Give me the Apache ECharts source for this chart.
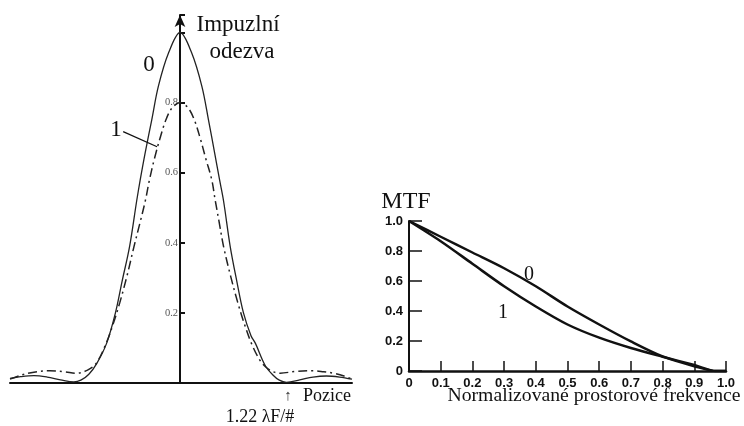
<!DOCTYPE html>
<html>
<head>
<meta charset="utf-8">
<script src="https://cdn.jsdelivr.net/npm/echarts@6/dist/echarts.min.js"></script>
<style>
html,body{margin:0;padding:0;background:#fff;}
#c{width:744px;height:426px;}
</style>
</head>
<body>
<div id="c"></div>
<script>
// ---- Impulse response (left), position in units of lambda F/# ----
var psfX0 = [-1.92,-1.8,-1.65,-1.5,-1.35,-1.2,-1.12,-1.03,-0.94,-0.83,-0.73,-0.655,-0.57,-0.49,-0.45,-0.395,-0.32,-0.245,-0.13,0,
             0.13,0.245,0.32,0.39,0.445,0.49,0.565,0.64,0.715,0.8,0.85,0.96,1.05,1.12,1.2,1.35,1.5,1.65,1.8,1.94];
var psfY0 = [0.013,0.018,0.021,0.017,0.009,0.003,0.008,0.025,0.056,0.113,0.2,0.29,0.39,0.52,0.58,0.656,0.751,0.847,0.942,1.0,
             0.942,0.847,0.751,0.656,0.58,0.52,0.39,0.29,0.2,0.135,0.113,0.05,0.022,0.008,0.002,0.009,0.017,0.02,0.017,0.011];
var psfX1 = [-1.92,-1.8,-1.65,-1.47,-1.3,-1.17,-1.05,-0.95,-0.84,-0.76,-0.68,-0.6,-0.52,-0.45,-0.39,-0.35,-0.29,-0.225,-0.16,-0.09,0,
             0.09,0.16,0.225,0.29,0.357,0.395,0.44,0.49,0.57,0.65,0.73,0.81,0.9,0.97,1.05,1.13,1.3,1.5,1.62,1.73,1.85,1.94];
var psfY1 = [0.011,0.022,0.031,0.035,0.032,0.028,0.036,0.055,0.11,0.165,0.23,0.305,0.39,0.46,0.523,0.575,0.64,0.70,0.751,0.785,0.8,
             0.785,0.751,0.70,0.64,0.58,0.523,0.46,0.39,0.305,0.23,0.165,0.11,0.065,0.045,0.032,0.028,0.033,0.035,0.032,0.028,0.02,0.011];
var psfTicks = [0.2, 0.4, 0.6, 0.8];

// ---- MTF (right) ----
var mtfX = [0,0.1,0.2,0.3,0.4,0.5,0.6,0.7,0.8,0.9,0.97,1.0];
var mtf0 = [1.0,0.895,0.79,0.685,0.565,0.43,0.31,0.197,0.097,0.032,0.0,0.0];
var mtf1 = [1.0,0.865,0.715,0.565,0.43,0.31,0.222,0.153,0.095,0.04,0.0,0.0];

function pairs(xs, ys){ return xs.map(function(x,i){ return [x, ys[i]]; }); }

var serif = '"Liberation Serif", "DejaVu Serif", serif';
var chart = echarts.init(document.getElementById('c'));
chart.setOption({
  animation: false,
  backgroundColor: '#fff',
  grid: [
    {left: 10, top: 15, width: 342, height: 368, outerBoundsMode: 'none', containLabel: false},
    {left: 409, top: 221, width: 317, height: 150, outerBoundsMode: 'none', containLabel: false}
  ],
  xAxis: [
    {gridIndex: 0, type: 'value', min: -1.92, max: 1.94,
     axisLine: {show: true, onZero: false, lineStyle: {color: '#111', width: 2}},
     axisTick: {show: false}, axisLabel: {show: false}, splitLine: {show: false}},
    {gridIndex: 1, type: 'value', min: 0, max: 1, interval: 0.1,
     axisLine: {show: true, onZero: false, lineStyle: {color: '#111', width: 2.5}},
     axisTick: {show: true, inside: true, length: 10, lineStyle: {color: '#111', width: 1.5}},
     axisLabel: {show: true, margin: 6, color: '#111', fontFamily: '"Liberation Sans", Arial, sans-serif', fontWeight: 'bold', fontSize: 13,
       formatter: function(v){ return v === 0 ? '0' : v.toFixed(1); }},
     splitLine: {show: false}}
  ],
  yAxis: [
    {gridIndex: 0, type: 'value', min: 0, max: 1.05, interval: 0.2, offset: -170,
     axisLine: {show: true, onZero: false, symbol: ['none', 'arrow'], symbolSize: [8, 12], lineStyle: {color: '#111', width: 2}},
     axisTick: {show: true, inside: true, length: 5, lineStyle: {color: '#111', width: 2}},
     axisLabel: {show: true, margin: 2, color: '#555', fontFamily: serif, fontSize: 10.5,
       formatter: function(v){ var r = Math.round(v*10)/10; return (psfTicks.indexOf(r) >= 0 && Math.abs(v - r) < 1e-6) ? v.toFixed(1) : ''; }},
     splitLine: {show: false}},
    {gridIndex: 1, type: 'value', min: 0, max: 1.0, interval: 0.2,
     axisLine: {show: true, onZero: false, lineStyle: {color: '#111', width: 2}},
     axisTick: {show: true, inside: true, length: 13, lineStyle: {color: '#111', width: 1.5}},
     axisLabel: {show: true, margin: 6, color: '#111', fontFamily: '"Liberation Sans", Arial, sans-serif', fontWeight: 'bold', fontSize: 13,
       formatter: function(v){ return v === 0 ? '0' : v.toFixed(1); }},
     splitLine: {show: false}}
  ],
  series: [
    {type: 'line', xAxisIndex: 0, yAxisIndex: 0, data: pairs(psfX0, psfY0), smooth: 0.35, showSymbol: false,
     lineStyle: {color: '#222', width: 1.3}, z: 3},
    {type: 'line', xAxisIndex: 0, yAxisIndex: 0, data: pairs(psfX1, psfY1), smooth: 0.35, showSymbol: false,
     lineStyle: {color: '#222', width: 1.5, type: [9, 4, 2, 4]}, z: 3,
     markLine: {silent: true, symbol: ['none', 'none'], label: {show: false},
       lineStyle: {color: '#111', width: 1.3, type: 'solid'},
       data: [[{coord: [-0.643, 0.717]}, {coord: [-0.26, 0.674]}]]}},
    {type: 'line', xAxisIndex: 1, yAxisIndex: 1, data: pairs(mtfX, mtf0), smooth: 0.3, showSymbol: false,
     lineStyle: {color: '#111', width: 2.5}},
    {type: 'line', xAxisIndex: 1, yAxisIndex: 1, data: pairs(mtfX, mtf1), smooth: 0.3, showSymbol: false,
     lineStyle: {color: '#111', width: 2.5}}
  ],
  graphic: [
    {type: 'text', x: 238, y: 25, style: {text: 'Impuzlní', font: '23px ' + serif, fill: '#111', align: 'center', verticalAlign: 'middle'}},
    {type: 'text', x: 242, y: 52, style: {text: 'odezva', font: '23px ' + serif, fill: '#111', align: 'center', verticalAlign: 'middle'}},
    {type: 'text', x: 149, y: 65, style: {text: '0', font: '23px ' + serif, fill: '#111', align: 'center', verticalAlign: 'middle'}},
    {type: 'text', x: 116, y: 130, style: {text: '1', font: '23px ' + serif, fill: '#111', align: 'center', verticalAlign: 'middle'}},
    {type: 'text', x: 327, y: 396, style: {text: 'Pozice', font: '18px ' + serif, fill: '#111', align: 'center', verticalAlign: 'middle'}},
    {type: 'text', x: 288, y: 396, style: {text: '↑', font: '15px ' + serif, fill: '#333', align: 'center', verticalAlign: 'middle'}},
    {type: 'text', x: 260, y: 417, style: {text: '1.22 λF/#', font: '18px ' + serif, fill: '#111', align: 'center', verticalAlign: 'middle'}},
    {type: 'text', x: 406, y: 202, style: {text: 'MTF', font: '24px ' + serif, fill: '#111', align: 'center', verticalAlign: 'middle'}},
    {type: 'text', x: 529, y: 275, style: {text: '0', font: '20px ' + serif, fill: '#111', align: 'center', verticalAlign: 'middle'}},
    {type: 'text', x: 503, y: 313, style: {text: '1', font: '20px ' + serif, fill: '#111', align: 'center', verticalAlign: 'middle'}},
    {type: 'text', x: 594, y: 396, style: {text: 'Normalizované prostorové frekvence', font: '19.7px ' + serif, fill: '#111', align: 'center', verticalAlign: 'middle'}}
  ]
});
</script>
</body>
</html>
